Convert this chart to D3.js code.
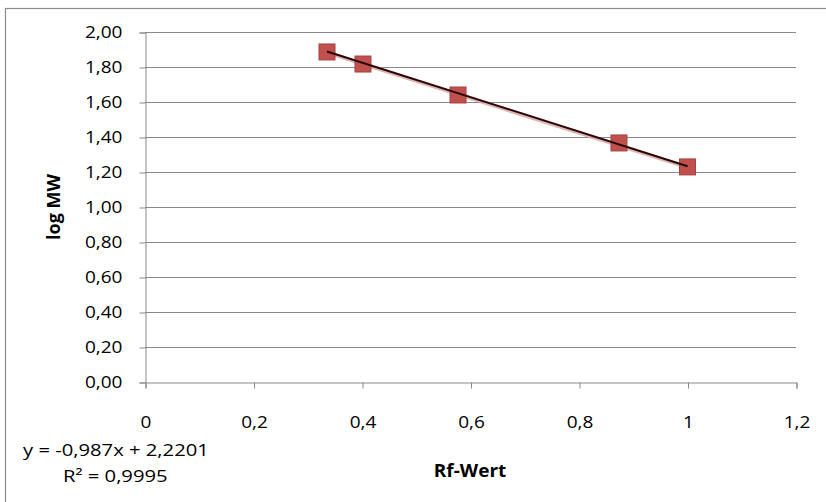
<!DOCTYPE html>
<html><head><meta charset="utf-8">
<script src="https://cdn.jsdelivr.net/npm/d3@7/dist/d3.min.js"></script>
<style>body{margin:0;background:#fff}svg{display:block}text{font-family:"Open Sans",sans-serif;fill:#000}</style>
</head><body><svg id="c" width="826" height="502"></svg>
<script>
const rfValues = [0.3355, 0.4018, 0.577, 0.8737, 1.0];
const logMW = [1.886, 1.817, 1.64, 1.366, 1.229];
const xTicks = [0, 0.2, 0.4, 0.6, 0.8, 1, 1.2];
const yTicks = [0, 0.2, 0.4, 0.6, 0.8, 1.0, 1.2, 1.4, 1.6, 1.8, 2.0];
const slope = -0.987, intercept = 2.2201;
const eqText = "y = -0,987x + 2,2201";
const r2Text = "R² = 0,9995";

const SX = 1.12;
const svg = d3.select("#c");
svg.append("rect").attr("x",5.5).attr("y",8.5).attr("width",830).attr("height",500)
  .attr("fill","#fff").attr("stroke","#8c8c8c").attr("stroke-width",1.2);
const x = d3.scaleLinear().domain([0,1.2]).range([145,796]);
const y = d3.scaleLinear().domain([0,2]).range([382,32]);
const fmtY = d => d3.format(".2f")(d).replace(".",",");
const fmtX = d => String(d).replace(".",",");

svg.append("g").selectAll("line").data(yTicks.filter(d=>d>0)).join("line")
  .attr("x1",x(0)).attr("x2",x(1.2)).attr("y1",d=>Math.round(y(d))+0.5).attr("y2",d=>Math.round(y(d))+0.5)
  .attr("stroke","#8a8a8a").attr("stroke-width",1);

const yAxis = svg.append("g").attr("transform",`translate(${x(0)+0.5},0.5)`)
  .call(d3.axisLeft(y).tickValues(yTicks).tickFormat(fmtY).tickSize(6).tickPadding(17));
const xAxis = svg.append("g").attr("transform",`translate(0.5,${y(0)+0.5})`)
  .call(d3.axisBottom(x).tickValues(xTicks).tickFormat(fmtX).tickSize(6).tickPadding(27));
[yAxis,xAxis].forEach(g=>{
  g.select(".domain").attr("stroke","#8a8a8a");
  g.selectAll(".tick line").attr("stroke","#8a8a8a");
  g.selectAll("text").attr("font-size",17).attr("fill","#000").style("font-family","'Open Sans', sans-serif")
    .each(function(){ const t=d3.select(this); const ox=+t.attr("x")||0; t.attr("x",ox/SX).attr("transform",`scale(${SX},1)`); });
});

const pts = rfValues.map((v,i)=>[v,logMW[i]]);
const xmin = d3.min(rfValues), xmax = d3.max(rfValues);
svg.append("line").attr("x1",x(xmin)).attr("y1",y(slope*xmin+intercept)+1)
  .attr("x2",x(xmax)).attr("y2",y(slope*xmax+intercept)+1)
  .attr("stroke","#d9a3a2").attr("stroke-width",4).attr("opacity",0.8);
svg.append("g").selectAll("rect").data(pts).join("rect")
  .attr("x",d=>x(d[0])-8).attr("y",d=>y(d[1])-8).attr("width",16).attr("height",16)
  .attr("fill","#C0504D").attr("stroke","#a8423f").attr("stroke-width",1);
svg.append("line").attr("x1",x(xmin)).attr("y1",y(slope*xmin+intercept))
  .attr("x2",x(xmax)).attr("y2",y(slope*xmax+intercept))
  .attr("stroke","#2a0606").attr("stroke-width",2);

function label(tx, ty, txt, opts){
  const t = svg.append("text").attr("transform",`translate(${tx},${ty}) ${opts.rot?"rotate(-90)":""} scale(${opts.sx||SX},1)`)
    .attr("font-size",opts.size).attr("text-anchor",opts.anchor||"start").text(txt);
  if(opts.bold) t.attr("font-weight","bold");
  return t;
}
label(60, y(1), "log MW", {rot:true, size:18, bold:true, anchor:"middle", sx:1});
label(470, 477, "Rf-Wert", {size:17, bold:true, anchor:"middle"});
label(23, 456, eqText, {size:17, sx:1.19});
label(63, 482, r2Text, {size:17, sx:1.19});
</script></body></html>
